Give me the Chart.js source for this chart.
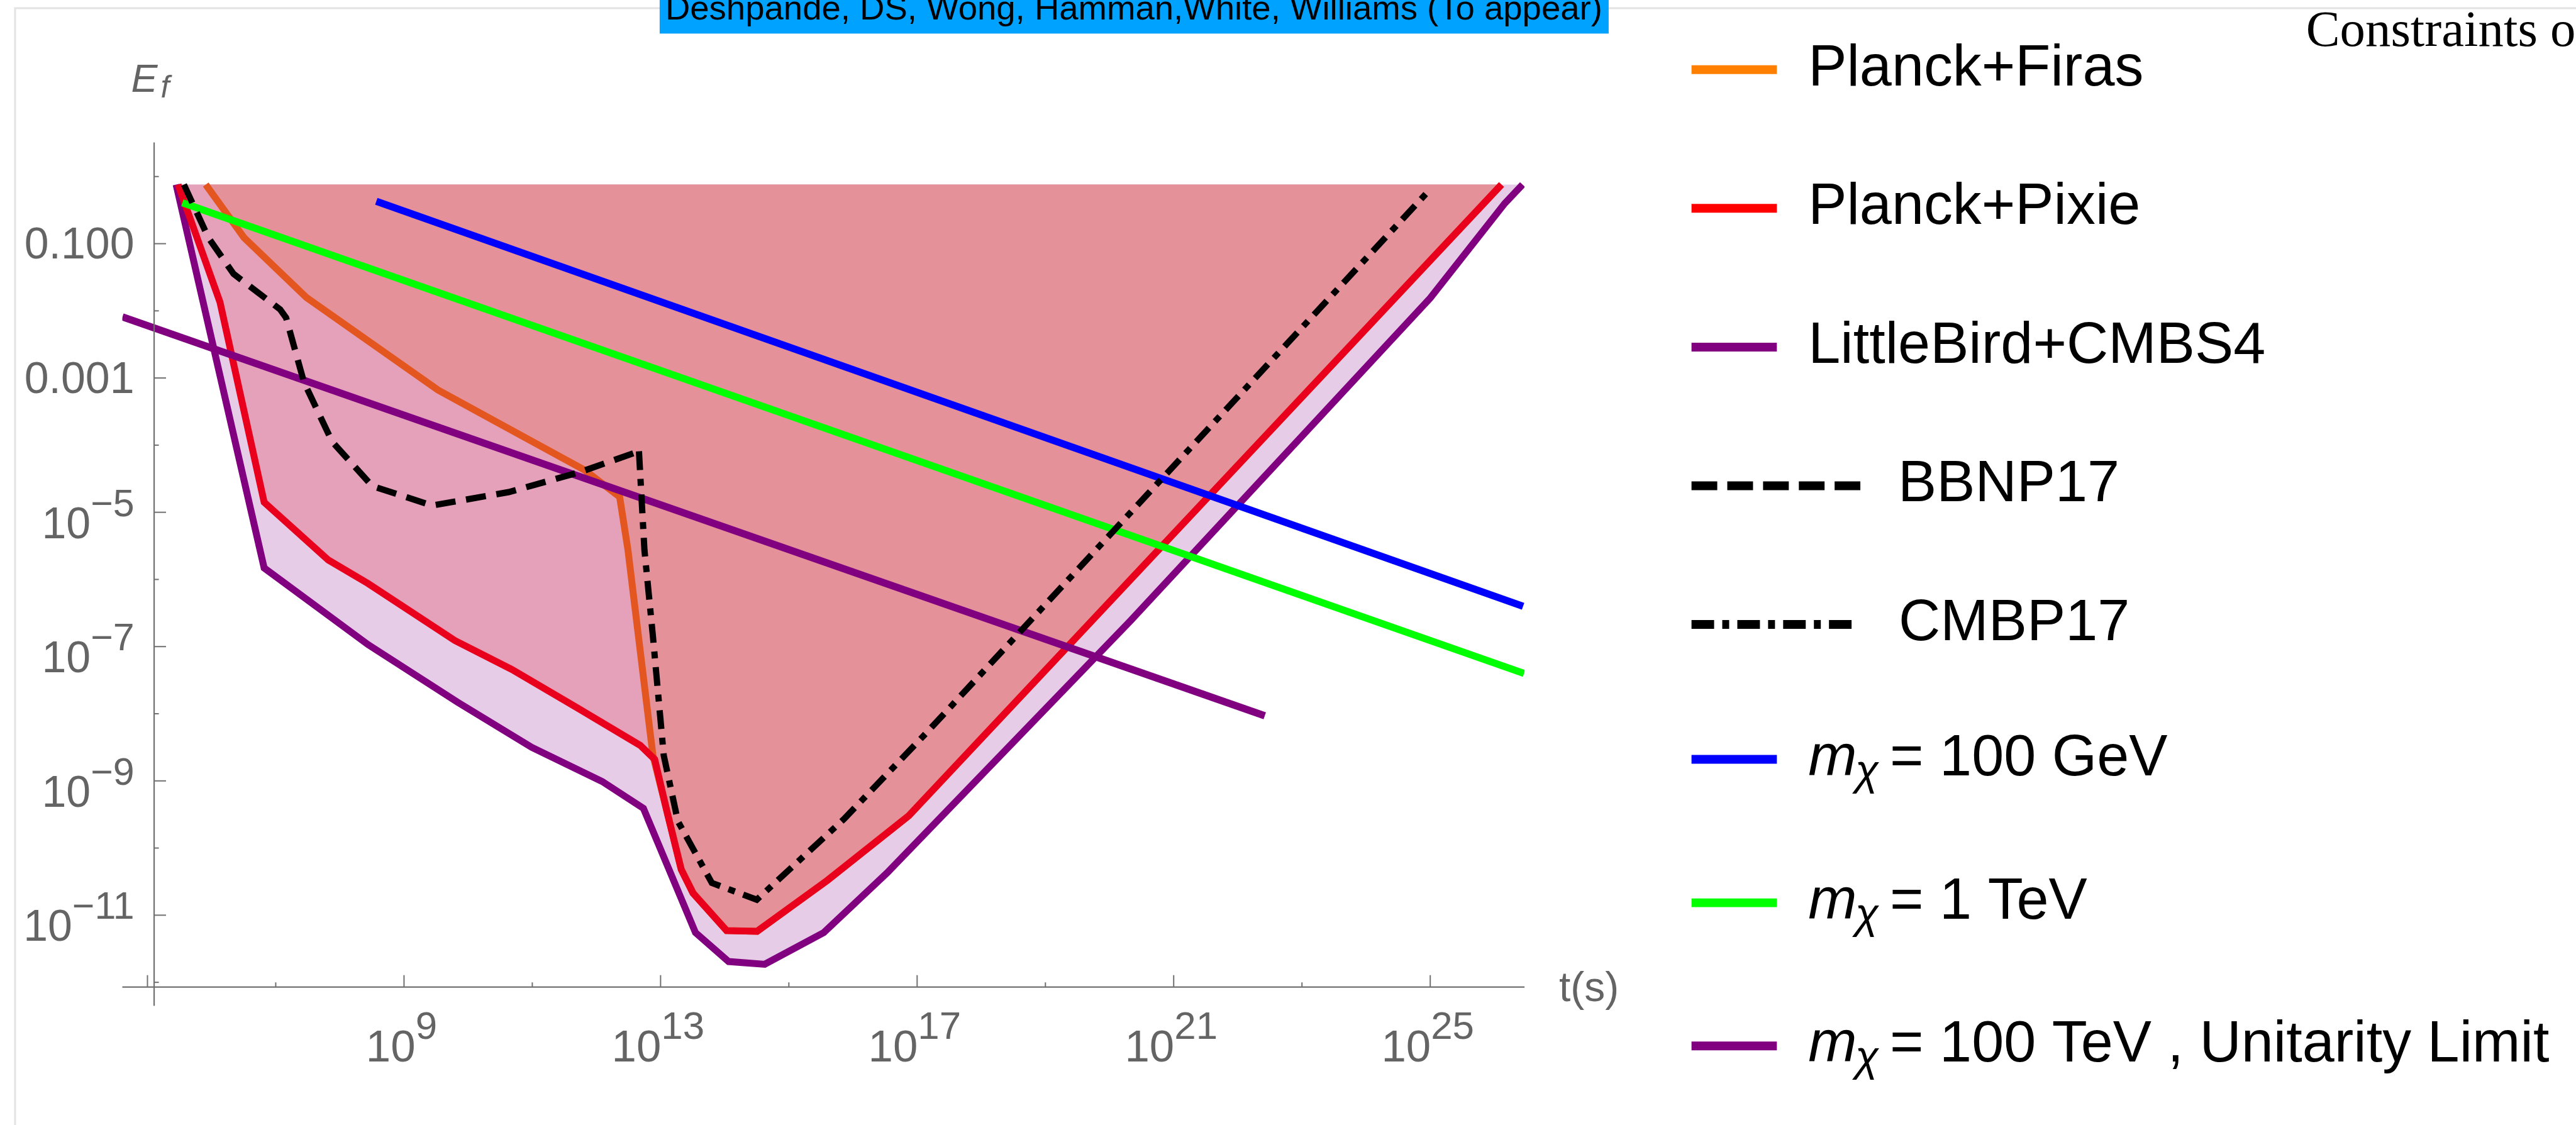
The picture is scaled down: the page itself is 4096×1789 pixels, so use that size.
<!DOCTYPE html>
<html>
<head>
<meta charset="utf-8">
<script src="https://cdn.jsdelivr.net/npm/chart.js@4.4.1/dist/chart.umd.min.js"></script>
<style>
  html, body { margin: 0; padding: 0; background: #ffffff; overflow: hidden; }
  canvas { display: block; }
</style>
</head>
<body>
<canvas id="c" width="4096" height="1789"></canvas>
<script>
// Decay time t (s) and fractional energy injection E_f along each constraint curve
const firasT = [8.1e5, 3.2e6, 3.0e7, 3.4e9, 6.5e11, 2.3e12, 3.1e12, 7.6e12, 1.26e13, 2.1e13, 3.2e13, 1.07e14, 3.2e14, 4.0e15, 7.4e16, 1.29e26];
const firasE = [0.76, 0.123, 1.585e-2, 6.6e-4, 4.27e-5, 1.70e-5, 2.75e-6, 2.4e-9, 3.47e-10, 4.79e-11, 2.14e-11, 5.89e-12, 5.75e-12, 3.31e-11, 3.02e-10, 0.76];

const pixieT = [3.0e5, 1.35e6, 6.6e6, 6.6e7, 2.75e8, 6.2e9, 4.8e10, 5.0e11, 4.8e12, 8.1e12, 1.26e13, 2.1e13, 3.2e13, 1.07e14, 3.2e14, 4.0e15, 7.4e16, 1.29e26];
const pixieE = [0.76, 1.35e-2, 1.41e-5, 1.95e-6, 8.7e-7, 1.23e-7, 4.57e-8, 1.23e-8, 3.39e-9, 2.09e-9, 3.47e-10, 4.79e-11, 2.14e-11, 5.89e-12, 5.75e-12, 3.31e-11, 3.02e-10, 0.76];

const birdT = [2.8e5, 6.6e6, 2.75e8, 6.9e9, 9.8e10, 1.23e12, 5.4e12, 3.5e13, 1.15e14, 4.2e14, 3.5e15, 3.4e16, 2.1e20, 1.0e25, 1.45e26, 2.75e26];
const birdE = [0.76, 1.48e-6, 1.07e-7, 1.48e-8, 3.16e-9, 9.8e-10, 3.9e-10, 5.5e-12, 2.04e-12, 1.86e-12, 5.5e-12, 4.27e-11, 2.4e-7, 1.55e-2, 0.398, 0.76];

const bbnT = [3.7e5, 8.9e5, 2.2e6, 1.17e7, 1.45e7, 2.75e7, 7.6e7, 3.2e8, 2.75e9, 4.3e10, 5.6e11, 4.6e12];
const bbnE = [0.76, 0.123, 3.55e-2, 1.05e-2, 7.9e-3, 8.7e-4, 1.12e-4, 2.46e-5, 1.26e-5, 2.0e-5, 3.98e-5, 8.1e-5];

const cmbT = [4.6e12, 5.6e12, 7.6e12, 1.12e13, 1.86e13, 6.3e13, 3.16e14, 7.2e15, 1.41e17, 9.1e24];
const cmbE = [8.1e-5, 2.75e-6, 1.41e-7, 2.4e-9, 2.51e-10, 3.02e-11, 1.70e-11, 2.69e-10, 5.25e-9, 0.589];

// Dark-matter mass benchmark lines
const gevT = [3.7e8, 2.8e26];      const gevE = [0.427, 3.98e-7];
const tevT = [3.5e5, 2.9e26];      const tevE = [0.407, 3.98e-8];
const tev100T = [4.07e4, 2.63e22]; const tev100E = [8.13e-3, 9.33e-9];

// Upper edge of the shaded exclusion regions
const shadeTop = 0.76;

// Axis ticks and labels
const xMajorTicks = [1e5, 1e9, 1e13, 1e17, 1e21, 1e25];
const xTickLabels = [['', ''], ['10', '9'], ['10', '13'], ['10', '17'], ['10', '21'], ['10', '25']];
const xMinorTicks = [1e7, 1e11, 1e15, 1e19, 1e23];
const yMajorTicks = [1e-1, 1e-3, 1e-5, 1e-7, 1e-9, 1e-11];
const yTickLabels = [['0.100', ''], ['0.001', ''], ['10', '\u22125'], ['10', '\u22127'], ['10', '\u22129'], ['10', '\u221211']];
const yMinorTicks = [1e0, 1e-2, 1e-4, 1e-6, 1e-8, 1e-10, 1e-12];

const legendLabels = ['Planck+Firas', 'Planck+Pixie', 'LittleBird+CMBS4', 'BBNP17', 'CMBP17', '= 100 GeV', '= 1 TeV', '= 100 TeV , Unitarity Limit'];

const S = 0.998;
const SANS = '"Liberation Sans", Arial, Helvetica, sans-serif';
const SERIF = '"Liberation Serif", "Times New Roman", serif';
const AXIS_COLOR = '#707070';
const LABEL_COLOR = '#646464';

const pts = (ts, es) => ts.map((t, i) => ({ x: t, y: es[i] }));

function line(ctx, x1, y1, x2, y2) {
  ctx.beginPath(); ctx.moveTo(x1, y1); ctx.lineTo(x2, y2); ctx.stroke();
}

// Draws "base" with an optional superscript, aligned left/right/center at x.
function powerLabel(ctx, base, sup, x, y, align, baseSize, supSize, raise) {
  ctx.font = baseSize + 'px ' + SANS;
  const wb = ctx.measureText(base).width;
  ctx.font = supSize + 'px ' + SANS;
  const ws = sup ? ctx.measureText(sup).width : 0;
  const total = wb + ws;
  const x0 = align === 'right' ? x - total : align === 'center' ? x - total / 2 : x;
  ctx.textAlign = 'left';
  ctx.textBaseline = 'alphabetic';
  ctx.font = baseSize + 'px ' + SANS;
  ctx.fillText(base, x0, y);
  if (sup) {
    ctx.font = supSize + 'px ' + SANS;
    ctx.fillText(sup, x0 + wb, y - raise);
  }
}

const decor = {
  id: 'decor',
  beforeDraw(chart) {
    const ctx = chart.ctx;
    ctx.save();
    ctx.fillStyle = '#ffffff';
    ctx.fillRect(0, 0, chart.width, chart.height);
    ctx.strokeStyle = '#e3e3e3';
    ctx.lineWidth = 3 * S;
    ctx.beginPath();
    ctx.moveTo(24 * S, chart.height);
    ctx.lineTo(24 * S, 13 * S);
    ctx.lineTo(chart.width, 13 * S);
    ctx.stroke();
    ctx.restore();
  },
  afterDraw(chart) {
    const ctx = chart.ctx;
    const xs = chart.scales.x, ys = chart.scales.y, area = chart.chartArea;
    ctx.save();

    // Axes crossing at t = 1.27e5 s, E_f = 8.5e-13
    const ax = xs.getPixelForValue(1.27e5);
    const ay = ys.getPixelForValue(8.5e-13);
    ctx.strokeStyle = AXIS_COLOR;
    ctx.lineWidth = 2.2 * S;
    line(ctx, ax, area.top, ax, area.bottom);
    line(ctx, area.left, ay, area.right, ay);

    ctx.lineWidth = 2 * S;
    yMajorTicks.forEach(v => { const p = ys.getPixelForValue(v); line(ctx, ax, p, ax + 19 * S, p); });
    yMinorTicks.forEach(v => { const p = ys.getPixelForValue(v); line(ctx, ax, p, ax + 7.5 * S, p); });
    xMajorTicks.forEach(v => { const p = xs.getPixelForValue(v); line(ctx, p, ay, p, ay - 19 * S); });
    xMinorTicks.forEach(v => { const p = xs.getPixelForValue(v); line(ctx, p, ay, p, ay - 7.5 * S); });

    ctx.fillStyle = LABEL_COLOR;
    yMajorTicks.forEach((v, i) => {
      const p = ys.getPixelForValue(v);
      const [b, s] = yTickLabels[i];
      const dy = s ? 41 : 24;
      powerLabel(ctx, b, s, 214 * S, p + dy * S, 'right', 70 * S, 61 * S, 35 * S);
    });
    xMajorTicks.forEach((v, i) => {
      const [b, s] = xTickLabels[i];
      if (!b) return;
      const p = xs.getPixelForValue(v);
      powerLabel(ctx, b, s, p - 4 * S, ay + 119 * S, 'center', 71 * S, 62 * S, 37 * S);
    });

    // Axis titles
    ctx.font = 'italic ' + (63 * S) + 'px ' + SANS;
    ctx.fillText('E', 209 * S, 146 * S);
    ctx.font = 'italic ' + (50 * S) + 'px ' + SANS;
    ctx.fillText('f', 256 * S, 155 * S);
    ctx.font = (66 * S) + 'px ' + SANS;
    ctx.fillText('t(s)', 2484 * S, 1595 * S);

    // Author banner
    ctx.fillStyle = '#00A2FF';
    ctx.fillRect(1051 * S, 0, (2563 - 1051) * S, 53.5 * S);
    const banner = 'Deshpande, DS, Wong, Hamman,White, Williams (To appear)';
    ctx.font = (53 * S) + 'px ' + SANS;
    const bw = ctx.measureText(banner).width;
    ctx.save();
    ctx.translate(1060 * S, 31.3 * S);
    ctx.scale((1493 * S) / bw, 1);
    ctx.fillStyle = '#000000';
    ctx.fillText(banner, 0, 0);
    ctx.restore();

    // Slide heading (runs off the right edge)
    ctx.fillStyle = '#000000';
    ctx.font = (81 * S) + 'px ' + SERIF;
    ctx.fillText('Constraints on', 3674 * S, 73 * S);

    // Legend
    const rows = [111, 332, 553, 774, 995, 1210, 1438.5, 1666.5];
    const colors = ['#FF8000', '#FF0000', '#800080', '#000000', '#000000', '#0000FF', '#00FF00', '#800080'];
    ctx.lineCap = 'butt';
    rows.forEach((c, i) => {
      const cy = c * S;
      ctx.strokeStyle = colors[i];
      ctx.lineWidth = 14 * S;
      if (i === 3) {
        ctx.setLineDash([41 * S, 16 * S]);
        line(ctx, 2695 * S, cy, 2964 * S, cy);
      } else if (i === 4) {
        ctx.setLineDash([36 * S, 13 * S, 11 * S, 13 * S]);
        line(ctx, 2695 * S, cy, 2958 * S, cy);
      } else {
        ctx.setLineDash([]);
        line(ctx, 2695 * S, cy, 2831 * S, cy);
      }
      ctx.setLineDash([]);
      ctx.fillStyle = '#000000';
      const by = (c + 25) * S;
      if (i >= 5) {
        ctx.font = 'italic ' + (93 * S) + 'px ' + SANS;
        ctx.fillText('m', 2881 * S, by);
        ctx.font = 'italic ' + (68 * S) + 'px ' + SANS;
        ctx.fillText('\u03C7', 2956 * S, (c + 40) * S);
        ctx.font = (92 * S) + 'px ' + SANS;
        ctx.fillText(legendLabels[i], 3011 * S, by);
      } else {
        ctx.font = (92 * S) + 'px ' + SANS;
        const lx = i === 3 ? 3024 : i === 4 ? 3025 : 2881;
        ctx.fillText(legendLabels[i], lx * S, by);
      }
    });
    ctx.restore();
  }
};

const lineBase = { pointRadius: 0, tension: 0, fill: false, borderJoinStyle: 'miter', borderCapStyle: 'butt' };

new Chart(document.getElementById('c'), {
  type: 'line',
  data: {
    datasets: [
      Object.assign({}, lineBase, { label: 'BBNP17', data: pts(bbnT, bbnE), borderColor: '#000000', borderWidth: 10 * S, borderDash: [32 * S, 17 * S], order: 1 }),
      Object.assign({}, lineBase, { label: 'CMBP17', data: pts(cmbT, cmbE), borderColor: '#000000', borderWidth: 10 * S, borderDash: [30 * S, 14 * S, 11 * S, 14 * S], order: 2 }),
      Object.assign({}, lineBase, { label: 'm = 100 GeV', data: pts(gevT, gevE), borderColor: '#0000FF', borderWidth: 11.5 * S, order: 3 }),
      Object.assign({}, lineBase, { label: 'm = 1 TeV', data: pts(tevT, tevE), borderColor: '#00FF00', borderWidth: 11.5 * S, order: 4 }),
      Object.assign({}, lineBase, { label: 'm = 100 TeV', data: pts(tev100T, tev100E), borderColor: '#800080', borderWidth: 11.5 * S, order: 5 }),
      Object.assign({}, lineBase, { label: 'Planck+Pixie', data: pts(pixieT, pixieE), borderColor: '#E8001C', borderWidth: 11 * S, order: 6 }),
      Object.assign({}, lineBase, { label: 'Planck+Firas', data: pts(firasT, firasE), borderColor: '#E4561F', borderWidth: 11 * S, order: 7 }),
      Object.assign({}, lineBase, { label: 'LittleBird+CMBS4', data: pts(birdT, birdE), borderColor: '#800080', borderWidth: 11 * S, order: 8 }),
      Object.assign({}, lineBase, { label: 'Firas region', data: pts(firasT, firasE), borderWidth: 0, backgroundColor: '#E4919A', fill: { value: shadeTop }, order: 28 }),
      Object.assign({}, lineBase, { label: 'Pixie region', data: pts(pixieT, pixieE), borderWidth: 0, backgroundColor: '#E5A0BA', fill: { value: shadeTop }, order: 29 }),
      Object.assign({}, lineBase, { label: 'LittleBird region', data: pts(birdT, birdE), borderWidth: 0, backgroundColor: '#E6CCE6', fill: { value: shadeTop }, order: 30 })
    ]
  },
  options: {
    responsive: false,
    animation: false,
    devicePixelRatio: 1,
    layout: { padding: { left: 194.5, top: 226.5, right: 1671.9, bottom: 189.5 } },
    scales: {
      x: { type: 'logarithmic', display: false, bounds: 'data', min: 4.055e4, max: 2.951e26 },
      y: { type: 'logarithmic', display: false, bounds: 'data', min: 4.467e-13, max: 3.221 }
    },
    plugins: {
      legend: { display: false },
      title: { display: false },
      tooltip: { enabled: false },
      filler: { drawTime: 'beforeDatasetsDraw', propagate: false }
    },
    events: []
  },
  plugins: [decor]
});
</script>
</body>
</html>
